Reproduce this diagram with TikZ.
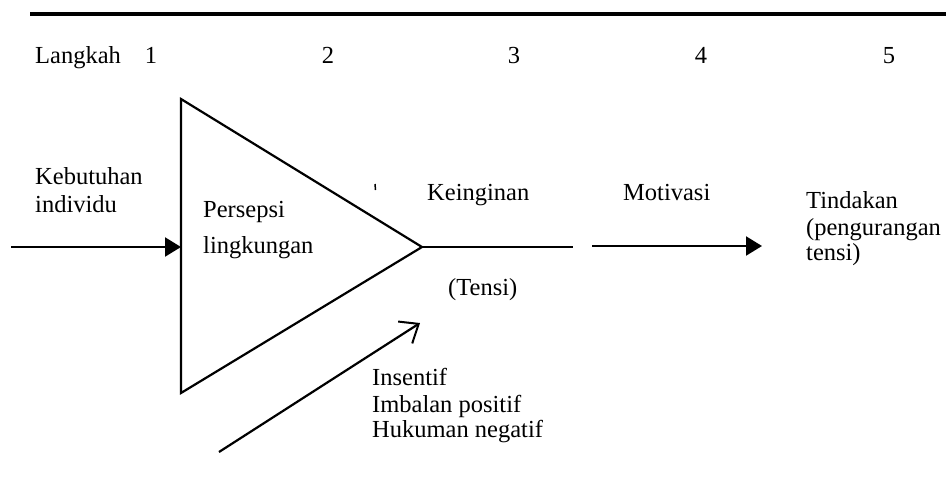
\documentclass[tikz,border=0pt]{standalone}
\usepackage{fontspec}
\setmainfont{Liberation Serif}
\usetikzlibrary{arrows.meta}
\begin{document}
\begin{tikzpicture}[x=1pt,y=-1pt,
  lbl/.style={anchor=base west, inner sep=0pt, font=\fontsize{24.5}{27}\selectfont},
  num/.style={anchor=base, inner sep=0pt, font=\fontsize{24.5}{27}\selectfont},
  conn/.style={line width=2.2pt},
  solidtip/.style={-{Triangle[length=16pt,width=19pt]}},
  opentip/.style={-{Straight Barb[length=16pt,width=26pt,line width=2pt]}}]
\useasboundingbox (0,0) rectangle (946,491);
% top rule
\coordinate (barL) at (30,14);
\coordinate (barR) at (946,14);
\draw[line width=4.5pt] (barL) -- (barR);
% step numbers
\node[lbl] (langkah) at (35,63) {Langkah};
\node[num] (n1) at (151,63) {1};
\node[num] (n2) at (328,63) {2};
\node[num] (n3) at (514,63) {3};
\node[num] (n4) at (701,63) {4};
\node[num] (n5) at (889,63) {5};
% triangle
\coordinate (tl) at (181,99);
\coordinate (tip) at (422,247);
\coordinate (bl) at (181,393);
\draw[conn, line join=miter] (tl) -- (tip) -- (bl) -- cycle;
% input arrow
\coordinate (in0) at (11,247);
\coordinate (inL) at (181,247);
\draw[conn, solidtip] (in0) -- (inL);
\node[lbl] (keb) at (35,184) {Kebutuhan};
\node[lbl] (ind) at (35,212) {individu};
\node[lbl] (pers) at (203,217) {Persepsi};
\node[lbl] (ling) at (203,253) {lingkungan};
% stray mark
\coordinate (sm0) at (375,184);
\coordinate (sm1) at (375.5,190);
\draw[line width=1.5pt] (sm0) -- (sm1);
% keinginan line
\coordinate (kend) at (573,247);
\draw[conn] (tip) -- (kend);
\node[lbl] (kein) at (427,200) {Keinginan};
\node[lbl] (tensi) at (448,295) {(Tensi)};
% motivasi arrow
\coordinate (m0) at (592,246);
\coordinate (m1) at (762,246);
\draw[conn, solidtip] (m0) -- (m1);
\node[lbl] (mot) at (623,200) {Motivasi};
\node[lbl] (tind) at (806,208) {Tindakan};
\node[lbl] (peng) at (806,235) {(pengurangan};
\node[lbl] (tens2) at (806,260) {tensi)};
% incentive arrow
\coordinate (d0) at (219,452);
\coordinate (d1) at (420,323);
\draw[conn, opentip] (d0) -- (d1);
\node[lbl] (ins) at (372,385) {Insentif};
\node[lbl] (imb) at (372,412) {Imbalan positif};
\node[lbl] (huk) at (372,437) {Hukuman negatif};
\end{tikzpicture}
\end{document}
